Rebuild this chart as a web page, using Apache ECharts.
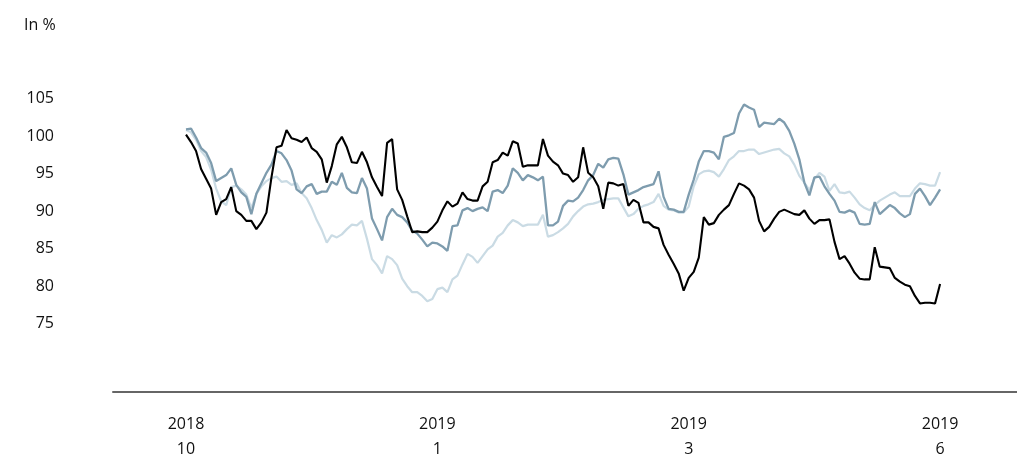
<!DOCTYPE html>
<html>
<head>
<meta charset="utf-8">
<script src="https://cdn.jsdelivr.net/npm/echarts@6/dist/echarts.min.js"></script>
<style>
  html, body { margin: 0; padding: 0; background: #fff; }
  #chart { width: 1017px; height: 462px; }
</style>
</head>
<body>
<div id="chart"></div>
<script>
// tick labels
var yTicks = [75, 80, 85, 90, 95, 100, 105];
var xTickPos = [0, 50, 100, 150];
var xTickLabels = ['2018\n10', '2019\n1', '2019\n3', '2019\n6'];

// black line
var seriesBlack = [
  100.2, 99.2, 98.0, 95.6, 94.3, 93.0, 89.5, 91.2, 91.6, 93.2,
  90.0, 89.5, 88.7, 88.7, 87.6, 88.5, 89.8, 94.5, 98.5, 98.7,
  100.8, 99.7, 99.5, 99.2, 99.8, 98.4, 97.9, 96.9, 93.8, 96.0,
  98.9, 99.9, 98.5, 96.5, 96.4, 97.9, 96.5, 94.5, 93.2, 92.0,
  99.1, 99.6, 92.9, 91.5, 89.3, 87.2, 87.3, 87.2, 87.2, 87.8,
  88.6, 90.1, 91.3, 90.6, 91.0, 92.5, 91.6, 91.4, 91.4, 93.3,
  93.9, 96.5, 96.8, 97.8, 97.4, 99.3, 99.0, 95.9, 96.1, 96.1,
  96.1, 99.6, 97.4, 96.6, 96.1, 95.0, 94.8, 93.9, 94.5, 98.5,
  95.1, 94.5, 93.3, 90.3, 93.8, 93.7, 93.4, 93.6, 90.7, 91.5,
  91.1, 88.5, 88.5, 87.9, 87.7, 85.5, 84.2, 83.0, 81.7, 79.4,
  81.1, 81.9, 83.8, 89.2, 88.2, 88.4, 89.5, 90.2, 90.8, 92.3,
  93.7, 93.4, 92.9, 91.8, 88.7, 87.3, 87.9, 89.0, 89.9, 90.2,
  89.9, 89.6, 89.5, 90.1, 89.0, 88.3, 88.8, 88.8, 88.9, 85.9,
  83.6, 84.0, 83.0, 81.8, 81.0, 80.9, 80.9, 85.2, 82.6, 82.5,
  82.4, 81.1, 80.6, 80.2, 80.0, 78.7, 77.7, 77.8, 77.8, 77.7,
  80.3
];

// blue-grey line
var seriesBlue = [
  100.9, 101.0, 99.8, 98.4, 97.8, 96.4, 94.0, 94.4, 94.8, 95.7,
  93.5, 92.5, 91.9, 89.6, 92.3, 93.7, 95.1, 96.2, 98.0, 97.7,
  96.8, 95.4, 92.9, 92.4, 93.3, 93.6, 92.3, 92.6, 92.6, 93.9,
  93.5, 95.1, 93.1, 92.5, 92.4, 94.4, 93.0, 89.0, 87.6, 86.1,
  89.2, 90.3, 89.5, 89.2, 88.5, 87.4, 87.0, 86.2, 85.3, 85.8,
  85.7, 85.3, 84.7, 88.0, 88.1, 90.1, 90.4, 90.0, 90.3, 90.5,
  90.0, 92.6, 92.8, 92.4, 93.4, 95.7, 95.1, 94.1, 94.8, 94.5,
  94.1, 94.6, 88.1, 88.1, 88.6, 90.7, 91.4, 91.3, 91.8, 92.8,
  94.1, 94.8, 96.3, 95.8, 96.9, 97.1, 97.0, 94.9, 92.2, 92.5,
  92.8, 93.2, 93.4, 93.6, 95.3, 91.9, 90.3, 90.2, 89.9, 89.9,
  92.2, 94.2, 96.6, 98.0, 98.0, 97.8, 96.9, 99.9, 100.1, 100.4,
  103.0, 104.2, 103.8, 103.5, 101.2, 101.8, 101.7, 101.6, 102.3, 101.8,
  100.7, 99.0, 96.9, 93.8, 92.1, 94.5, 94.6, 93.3, 92.3, 91.4,
  89.9, 89.8, 90.1, 89.8, 88.3, 88.2, 88.3, 91.2, 89.6, 90.2,
  90.8, 90.4, 89.7, 89.2, 89.6, 92.3, 93.0, 92.0, 90.8, 91.8,
  92.9
];

// light grey line
var seriesLight = [
  100.8, 100.5, 99.5, 98.0, 97.2, 95.5, 93.0, 91.3, 90.8, 93.2,
  93.4, 92.9, 92.2, 90.4, 92.3, 93.3, 94.0, 94.4, 94.6, 93.9,
  94.0, 93.5, 93.7, 92.4, 91.7, 90.4, 88.8, 87.5, 85.8, 86.8,
  86.5, 86.9, 87.6, 88.2, 88.1, 88.7, 86.3, 83.6, 82.8, 81.7,
  84.0, 83.6, 82.8, 81.0, 80.0, 79.2, 79.2, 78.7, 78.0, 78.3,
  79.6, 79.8, 79.2, 80.9, 81.4, 82.9, 84.3, 83.9, 83.1, 84.0,
  84.9, 85.4, 86.6, 87.1, 88.1, 88.8, 88.5, 88.0, 88.2, 88.2,
  88.2, 89.5, 86.6, 86.8, 87.2, 87.7, 88.3, 89.3, 90.0, 90.6,
  90.9, 91.0, 91.2, 91.5, 91.6, 91.7, 91.7, 90.5, 89.3, 89.6,
  90.3, 90.7, 90.9, 91.2, 92.3, 90.7, 90.2, 90.1, 89.8, 89.8,
  90.6, 93.3, 94.9, 95.3, 95.4, 95.2, 94.6, 95.6, 96.8, 97.3,
  98.0, 98.0, 98.2, 98.2, 97.6, 97.8, 98.0, 98.2, 98.3, 97.7,
  97.3, 96.2, 94.7, 93.8, 92.8, 94.3, 95.1, 94.6, 92.7, 93.6,
  92.5, 92.4, 92.6, 91.8, 90.9, 90.4, 90.1, 90.8, 91.4, 91.8,
  92.2, 92.5, 92.0, 92.0, 92.0, 93.0, 93.7, 93.6, 93.4, 93.4,
  95.2
];

function toPoints(arr) {
  return arr.map(function (v, i) { return [i, v]; });
}

var myChart = echarts.init(document.getElementById('chart'), null, { renderer: 'canvas' });

var textFont = '"Open Sans", "Noto Sans", sans-serif';

var option = {
  animation: false,
  backgroundColor: '#fff',
  title: {
    text: 'In %',
    left: 19,
    top: 12,
    textStyle: { fontFamily: textFont, fontSize: 16, fontWeight: 'normal', color: '#111' }
  },
  grid: { left: 113, right: 0, top: 61, bottom: 67 },
  xAxis: {
    type: 'value',
    min: -14.52,
    max: 165.3,
    axisLine: { show: true, lineStyle: { color: '#666', width: 2 } },
    axisTick: { show: false },
    splitLine: { show: false },
    axisLabel: {
      customValues: xTickPos,
      margin: 20,
      lineHeight: 25,
      fontFamily: textFont,
      fontSize: 16,
      color: '#111',
      formatter: function (v) {
        var k = xTickPos.indexOf(v);
        return k >= 0 ? xTickLabels[k] : '';
      }
    }
  },
  yAxis: {
    type: 'value',
    min: 65.9,
    max: 110,
    axisLine: { show: false },
    axisTick: { show: false },
    splitLine: { show: false },
    axisLabel: {
      customValues: yTicks,
      margin: 59,
      fontFamily: textFont,
      fontSize: 16,
      color: '#111'
    }
  },
  series: [
    {
      name: 'light',
      type: 'line',
      data: toPoints(seriesLight),
      symbol: 'none',
      lineStyle: { color: '#cadbe4', width: 2.2 }
    },
    {
      name: 'blue',
      type: 'line',
      data: toPoints(seriesBlue),
      symbol: 'none',
      lineStyle: { color: '#7e9cae', width: 2.3 }
    },
    {
      name: 'black',
      type: 'line',
      data: toPoints(seriesBlack),
      symbol: 'none',
      lineStyle: { color: '#000', width: 2.1 }
    }
  ]
};

myChart.setOption(option);
</script>
</body>
</html>
